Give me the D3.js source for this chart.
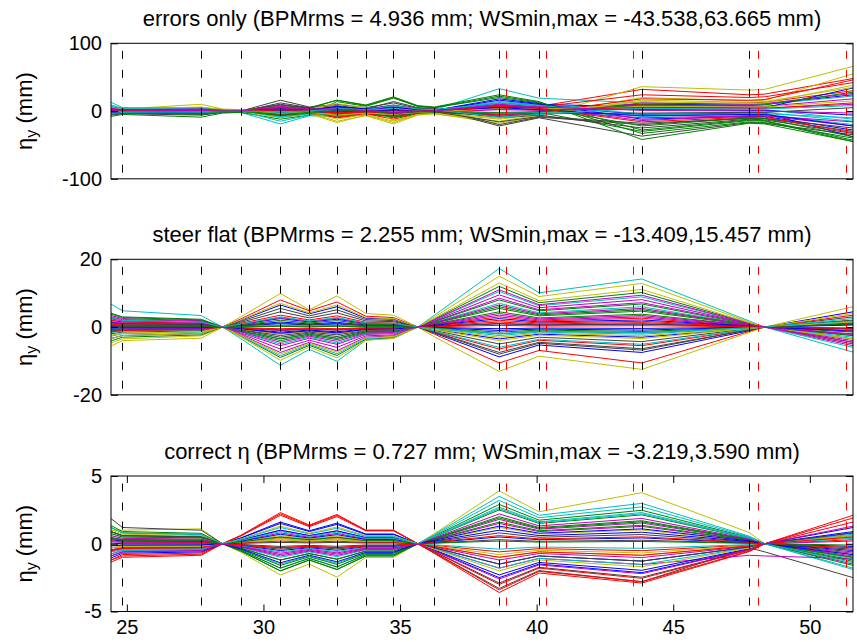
<!DOCTYPE html>
<html>
<head>
<meta charset="utf-8">
<script src="https://cdn.jsdelivr.net/npm/d3@7"></script>
<style>
body{margin:0;background:#fff;}
text{font-family:"Liberation Sans",Arial,Helvetica,sans-serif;fill:#000;}
</style>
</head>
<body>
<div id="chart"></div>
<script>
// s positions (m) where the eta_y traces have their points
var sNodes = [24.42,24.84,27.72,28.5,29.17,30.62,31.68,32.69,33.75,34.76,35.65,36.26,38.63,40.09,43.85,47.78,48.35,51.58];
// BPM (black dashed) and wire scanner (red dashed) positions
var bpmS = [24.84,27.72,29.17,30.62,31.68,32.69,33.75,34.76,36.26,38.63,40.09,43.85,47.78];
var wsS = [38.88,40.34,43.54,48.10,51.32];
var xTicks = [25,30,35,40,45,50];

var panelTitles = [
	"errors only (BPMrms = 4.936 mm; WSmin,max = -43.538,63.665 mm)",
	"steer flat (BPMrms = 2.255 mm; WSmin,max = -13.409,15.457 mm)",
	"correct \u03b7 (BPMrms = 0.727 mm; WSmin,max = -3.219,3.590 mm)"
];
var yTicks1 = [-100,0,100];
var yTicks2 = [-20,0,20];
var yTicks3 = [-5,0,5];

// eta_y (mm), one row per seed, errors only
var etaErrors = [
	[3,2,1,0,0,3,2,4,2,5,2,2,8,5,10,9,10,24],
	[-4,-3,-5,-2,-1,-6,-3,-8,-3,-10,-4,-3,-6,-2,-30,-14,-15,-45],
	[1,1,2,1,0,-3,-1,-5,-2,-4,-1,0,5,7,32,24,25,48],
	[13,5,1,-1,-2,-19,-7,-8,-3,-5,-1,2,33,19,12,10,10,22],
	[-2,-1,0,0,1,5,3,6,3,8,3,2,6,4,5,4,4,10],
	[4,3,10,3,2,-6,-3,-15,-7,-19,-6,-4,-18,-8,36,31,32,66],
	[0,-1,-2,-1,0,16,6,10,5,12,4,3,-22,-10,-37,-17,-18,-35],
	[-1,0,1,0,0,-2,-1,-3,-1,-2,0,1,12,8,-5,-3,-3,-38],
	[6,4,5,2,1,8,5,16,9,21,8,6,24,14,-42,-18,-19,-45],
	[-3,-2,-3,-1,0,4,2,-6,-3,-8,-3,-2,-4,-1,10,12,13,30],
	[5,3,2,1,1,-8,-4,-3,-1,2,1,1,14,9,3,2,2,-12],
	[1,1,0,0,0,6,3,5,2,3,1,0,-6,-3,8,7,7,18],
	[-3,-2,-4,-1,0,-10,-4,-17,-6,-17,-5,-4,-15,-6,20,15,16,55],
	[-6,-4,-6,-2,-1,12,5,8,3,14,5,4,-20,-9,-20,-10,-11,-30],
	[2,1,2,1,0,-4,-2,-2,0,3,1,1,16,10,6,5,5,34],
	[-8,-5,-9,-3,-2,-12,-6,14,7,19,7,5,20,12,-33,-16,-17,-40],
	[0,0,1,0,0,3,1,-9,-4,-12,-4,-3,3,6,24,20,21,42],
	[9,4,3,1,0,-15,-6,-4,-1,1,0,1,10,6,-8,-5,-5,-20],
	[-1,0,-1,0,0,2,1,3,1,4,1,1,-8,-4,12,10,11,26],
	[5,3,6,2,1,7,3,11,5,-14,-5,-3,-12,-5,16,13,14,35],
	[-4,-2,-3,-1,0,-5,-2,6,3,9,3,2,-10,-6,-25,-12,-13,-33],
	[1,2,3,1,0,-2,0,1,1,2,1,1,18,11,-12,-8,-8,-28],
	[-2,-1,-2,-1,0,9,4,16,8,20,7,5,22,13,-28,-13,-14,-43],
	[3,2,1,0,0,-6,-3,-10,-5,-7,-2,-1,-5,-2,18,16,17,46],
	[7,4,4,1,1,-9,-4,-2,0,4,2,2,12,8,-4,-2,-2,-15],
	[-2,-1,-1,0,0,4,2,-4,-2,-5,-2,-1,2,1,-10,-7,-7,-16],
	[0,1,2,1,0,-3,-2,-12,-5,-15,-5,-3,-10,-4,14,11,12,38],
	[-5,-3,-4,-1,0,10,4,3,1,-6,-2,-1,-16,-8,-18,-11,-11,-25],
	[2,1,1,0,0,1,0,-1,0,1,0,0,6,4,2,1,1,-6],
	[-3,-2,-4,-1,0,-7,-3,-6,-2,-9,-3,-2,9,5,-22,-10,-11,-38],
	[1,0,-1,0,0,2,1,-2,-1,-3,-1,0,3,2,5,4,4,12],
	[-2,-1,-2,-1,0,-3,-1,2,1,4,1,1,-3,-2,-6,-4,-4,-10],
	[4,2,3,1,0,6,3,4,2,6,2,1,8,5,-14,-7,-7,-22],
	[-1,-1,0,0,0,-4,-2,-6,-3,-5,-2,-1,4,3,7,6,6,15],
	[2,2,1,0,0,0,1,2,1,-2,-1,0,-8,-4,-3,-2,-2,5],
	[-3,-2,-1,0,0,3,1,7,3,6,2,1,5,2,-7,-5,-5,-22],
	[0,1,2,1,0,-5,-2,0,1,-4,-1,-1,-2,-1,9,8,9,28],
	[3,1,0,0,0,2,1,-3,-1,0,0,0,7,4,-16,-9,-9,-32],
	[-4,-2,-1,0,0,-1,0,4,2,8,3,2,-9,-5,4,3,3,8],
	[1,0,1,0,0,7,3,3,1,-2,-1,0,10,6,1,0,0,-3]
];

// eta_y (mm) after steering flat
var etaSteer = [
	[0.7,0.5,0.4,0,0.8,2.5,1.5,2.3,1.0,0.9,0,-1.8,-8.8,-5.3,-7.5,-1.1,0,4.5],
	[2.7,2.0,1.5,0,-1.2,-4.0,-2.4,-3.7,-1.6,-1.4,0,1.2,6.0,3.6,5.1,0.7,0,-3.5],
	[-1.4,-1.0,-0.8,0,2.4,8.0,4.8,7.4,3.2,2.8,0,-2.1,-10.6,-6.9,-10.6,-1.3,0,1.0],
	[6.8,4.8,3.4,0,-3.4,-11.3,-6.6,-10.1,-3.9,-3.1,0,3.5,17.3,10.1,14.2,1.8,0,-7.4],
	[2.0,1.5,1.1,0,-2.0,-6.5,-3.9,-6.0,-2.6,-2.3,0,1.7,8.5,5.1,7.2,1.0,0,-5.5],
	[-5.6,-4.0,-3.3,0,3.0,9.9,5.1,9.2,4.0,3.5,0,-2.9,-13.1,-8.6,-12.5,-1.6,0,6.0],
	[-0.7,-0.5,-0.4,0,1.7,5.5,3.3,5.1,2.2,1.9,0,-1.5,-7.5,-4.5,-6.4,-0.9,0,3.0],
	[-3.4,-2.5,-1.9,0,2.0,6.5,3.9,6.0,2.6,2.3,0,0.2,1.0,0.6,0.9,0.1,0,-0.6],
	[4.1,3.0,2.3,0,-2.7,-9.0,-5.4,-8.4,-3.6,-3.2,0,2.4,12.0,7.2,10.2,1.2,0,-4.5],
	[0.4,0.3,0.2,0,-0.6,-2.0,-1.2,-1.9,-0.8,-0.7,0,0.4,2.0,1.2,1.7,0.2,0,-0.5],
	[1.4,1.0,0.8,0,-2.6,-8.5,-5.1,-7.9,-3.4,-3.0,0,2.1,10.5,6.3,8.9,1.1,0,-6.0],
	[3.4,2.5,1.9,0,-1.7,-5.5,-3.3,-5.1,-2.2,-1.9,0,1.9,9.5,5.7,8.1,1.0,0,-4.0],
	[-4.7,-3.5,-2.6,0,-2.9,-9.8,-5.9,-9.1,-3.9,-3.4,0,3.0,15.0,9.0,12.9,1.5,0,-5.0],
	[-2.0,-1.5,-1.1,0,-0.9,-3.0,-1.8,-2.8,-1.2,-1.1,0,-1.0,-5.0,-3.0,-4.3,-0.5,0,2.0],
	[0.2,0.0,0.0,0,0.5,1.5,0.9,1.4,0.6,0.5,0,-0.7,-3.5,-2.1,-3.0,-0.4,0,1.5],
	[-1.4,-1.0,-0.8,0,-0.3,-1.0,-0.6,-0.9,-0.4,-0.4,0,0.9,4.5,2.7,3.8,0.5,0,-2.5],
	[2.0,1.5,1.1,0,1.1,3.5,2.1,3.3,1.4,1.2,0,-1.3,-6.5,-3.9,-5.5,-0.7,0,3.5],
	[-2.7,-2.0,-1.5,0,-1.5,-5.0,-3.0,-4.7,-2.0,-1.8,0,1.4,7.0,4.2,6.0,0.7,0,-3.0],
	[3.0,2.2,1.7,0,-2.3,-7.5,-4.5,-7.0,-3.0,-2.6,0,2.2,11.0,6.6,9.4,1.1,0,-5.0],
	[1.1,0.8,0.6,0,2.1,7.0,4.2,6.5,2.8,2.5,0,-0.8,-4.0,-2.4,-3.4,-0.4,0,4.0],
	[-1.1,-0.8,-0.6,0,1.4,4.5,2.7,4.2,1.8,1.6,0,-1.6,-8.0,-4.8,-6.8,-0.8,0,2.0],
	[1.4,1.0,0.8,0,-0.5,-1.5,-0.9,-1.4,-0.6,-0.5,0,-0.2,-1.0,-0.6,-0.9,-0.1,0,0.6],
	[-4.1,-3.0,-2.3,0,0.6,2.0,1.2,1.9,0.8,0.7,0,1.1,5.5,3.3,4.7,0.6,0,-1.5],
	[0.7,0.5,0.4,0,0.2,0.5,0.3,0.5,0.2,0.2,0,0.6,3.0,1.8,2.6,0.3,0,-0.5],
	[-1.6,-1.2,-0.9,0,-1.1,-3.5,-2.1,-3.3,-1.4,-1.2,0,-1.2,-6.0,-3.6,-5.1,-0.6,0,1.0],
	[2.4,1.8,1.4,0,-0.3,-1.0,-0.6,-0.9,-0.4,-0.4,0,0.7,3.5,2.1,3.0,0.4,0,-2.0],
	[-3.4,-2.5,-1.9,0,-2.4,-8.0,-4.8,-7.4,-3.2,-2.8,0,2.6,13.0,7.8,11.1,1.3,0,-3.5],
	[0.3,0.2,0.2,0,-0.8,-2.5,-1.5,-2.3,-1.0,-0.9,0,-0.4,-2.0,-1.2,-1.7,-0.2,0,1.2],
	[-0.7,-0.5,-0.4,0,0.3,1.0,0.6,0.9,0.4,0.4,0,-0.1,-0.5,-0.3,-0.4,-0.1,0,0.8],
	[3.8,2.8,2.1,0,-1.1,-3.5,-2.1,-3.3,-1.4,-1.2,0,1.6,8.0,4.8,6.8,0.8,0,-2.5],
	[0.8,0.6,0.5,0,-0.2,-0.8,-0.5,-0.7,-0.3,-0.3,0,0.3,1.5,0.9,1.3,0.2,0,-1.0],
	[-0.4,-0.3,-0.2,0,0.2,0.6,0.4,0.6,0.2,0.2,0,-0.5,-2.5,-1.5,-2.1,-0.3,0,1.8],
	[1.6,1.2,0.9,0,0.8,2.8,1.7,2.6,1.1,1.0,0,0.8,4.0,2.4,3.4,0.5,0,-2.2],
	[-2.4,-1.8,-1.4,0,-0.6,-2.0,-1.2,-1.9,-0.8,-0.7,0,-0.6,-3.0,-1.8,-2.6,-0.4,0,1.5],
	[1.2,0.9,0.7,0,0.4,1.2,0.7,1.1,0.5,0.4,0,0.2,1.0,0.6,0.9,0.1,0,-0.4],
	[-0.3,-0.2,-0.2,0,-0.5,-1.8,-1.1,-1.7,-0.7,-0.6,0,0.5,2.5,1.5,2.1,0.3,0,-1.2],
	[0.5,0.4,0.3,0,0.1,0.2,0.1,0.2,0.1,0.1,0,-0.3,-1.5,-0.9,-1.3,-0.2,0,0.9],
	[-1.4,-1.0,-0.8,0,-0.2,-0.5,-0.3,-0.5,-0.2,-0.2,0,0.1,0.5,0.3,0.4,0.1,0,-0.3],
	[2.7,2.0,1.5,0,0.9,3.0,1.8,2.8,1.2,1.1,0,-0.4,-2.0,-1.2,-1.7,-0.2,0,2.5],
	[-0.8,-0.6,-0.5,0,-1.4,-4.5,-2.7,-4.2,-1.8,-1.6,0,1.3,6.5,3.9,5.5,0.7,0,-4.5]
];

// eta_y (mm) after dispersion correction
var etaCorrect = [
	[0.45,0.3,0.26,0,0.43,1.6,0.96,1.52,0.72,0.72,0,-0.5,-2.5,-1.5,-2.13,-0.4,0,1.2],
	[1.2,0.8,0.68,0,-0.54,-2.0,-1.2,-1.9,-0.9,-0.9,0,0.58,2.9,1.74,2.47,0.46,0,-1.2],
	[-1.35,-1.0,-0.85,0,0.62,2.3,1.38,2.16,1.0,1.0,0,-0.72,-3.6,-2.16,-2.9,-0.58,0,2.1],
	[0.75,0.5,0.43,0,-0.49,-1.8,-1.08,-1.71,-0.81,-0.81,0,0.7,3.5,2.1,2.98,0.56,0,-1.9],
	[-0.45,-0.3,-0.26,0,-0.22,-0.8,-0.48,-0.76,-0.36,-0.36,0,0.3,1.5,0.9,1.28,0.24,0,-1.5],
	[1.0,1.0,1.1,0,-0.62,-2.3,-1.5,-2.46,-1.0,-1.0,0,0.75,3.9,2.36,3.77,0.83,0,-0.8],
	[1.86,1.2,1.0,0,0.14,0.5,0.3,0.48,0.23,0.23,0,-0.66,-3.3,-1.98,-2.8,-0.3,-0.6,-2.5],
	[-0.9,-0.6,-0.51,0,0.41,1.5,0.9,1.43,0.68,0.68,0,-0.3,-1.5,-0.9,-1.28,-0.24,0,0.8],
	[0.9,0.6,0.51,0,-0.54,-2.0,-1.2,-1.9,-0.9,-0.9,0,0.5,2.5,1.5,2.13,0.4,0,-1.6],
	[-1.2,-0.9,-0.77,0,0.59,2.2,1.32,2.09,0.99,0.99,0,-0.68,-3.4,-2.04,-2.8,-0.55,0,1.9],
	[0.45,0.3,0.26,0,-0.41,-1.5,-0.9,-1.43,-0.68,-0.68,0,0.64,3.2,1.92,2.72,0.51,0,-1.8],
	[-0.6,-0.4,-0.34,0,0.27,1.0,0.6,0.95,0.45,0.45,0,-0.36,-1.8,-1.08,-1.53,-0.85,-0.9,-1.1],
	[1.05,0.7,0.6,0,0.16,0.6,0.36,0.57,0.27,0.27,0,-0.2,-1.0,-0.6,-0.85,-0.16,0,0.5],
	[-0.3,-0.2,-0.17,0,-0.32,-1.2,-0.72,-1.14,-0.54,-0.54,0,-0.58,-2.9,-1.74,-2.47,-0.46,0,0.6],
	[0.05,0.0,0.0,0,0.27,1.0,0.6,0.95,0.45,0.45,0,-0.46,-2.3,-1.38,-1.96,-0.37,0,0.9],
	[0.75,0.5,0.43,0,-0.43,-1.6,-0.96,-1.52,-0.72,-0.72,0,0.4,2.0,1.2,1.7,0.32,0,-1.3],
	[-1.2,-0.8,-0.68,0,0.57,2.1,1.26,2.0,0.95,0.95,0,-0.6,-3.0,-1.8,-2.55,-0.48,0,1.6],
	[0.3,0.2,0.17,0,-0.27,-1.0,-0.6,-0.95,-0.45,-0.45,0,0.52,2.6,1.56,2.21,0.42,0,-1.1],
	[-0.75,-0.5,-0.43,0,0.11,0.4,0.24,0.38,0.18,0.18,0,0.36,1.8,1.08,1.53,0.29,0,-0.7],
	[0.6,0.4,0.34,0,0.08,0.3,0.18,0.29,0.14,0.14,0,0.24,1.2,0.72,1.02,0.19,0,-0.3],
	[-0.15,-0.1,-0.09,0,-0.11,-0.4,-0.24,-0.38,-0.18,-0.18,0,0.16,0.8,0.48,0.68,0.13,0,-0.4],
	[0.3,0.2,0.17,0,-0.14,-0.5,-0.3,-0.48,-0.23,-0.23,0,0.2,1.0,0.6,0.85,0.16,0,-0.5],
	[1.35,0.9,0.77,0,-0.49,-1.8,-1.08,-1.71,-0.81,-0.81,0,0.32,1.6,0.96,1.36,0.26,0,-1.0],
	[-0.45,-0.3,-0.26,0,0.05,0.2,0.12,0.19,0.09,0.09,0,-0.12,-0.6,-0.36,-0.51,-0.1,0,0.3],
	[-0.6,-0.4,-0.34,0,-0.16,-0.6,-0.36,-0.57,-0.27,-0.27,0,-0.36,-1.8,-1.08,-1.53,-0.29,0,0.7],
	[0.15,0.1,0.09,0,0.22,0.8,0.48,0.76,0.36,0.36,0,-0.24,-1.2,-0.72,-1.02,-0.19,0,0.2],
	[-0.3,-0.2,-0.17,0,0.11,0.4,0.24,0.38,0.18,0.18,0,-0.4,-2.0,-1.2,-1.7,-0.32,0,0.5],
	[0.45,0.3,0.26,0,-0.05,-0.2,-0.12,-0.19,-0.09,-0.09,0,0.06,0.3,0.18,0.26,0.05,0,-0.6],
	[-1.05,-0.7,-0.6,0,0.19,0.7,0.42,0.67,0.32,0.32,0,0.1,0.5,0.3,0.43,0.08,0,-0.2],
	[0.9,0.6,0.51,0,-0.32,-1.2,-0.72,-1.14,-0.54,-0.54,0,0.38,1.9,1.14,1.62,0.3,0,-1.0],
	[0.22,0.15,0.13,0,-0.08,-0.3,-0.18,-0.29,-0.14,-0.14,0,0.12,0.6,0.36,0.51,0.1,0,-0.3],
	[-0.75,-0.5,-0.43,0,0.24,0.9,0.54,0.86,0.41,0.41,0,-0.08,-0.4,-0.24,-0.34,-0.06,0,0.4],
	[0.6,0.4,0.34,0,-0.19,-0.7,-0.42,-0.67,-0.32,-0.32,0,0.44,2.2,1.32,1.87,0.35,0,-0.9],
	[-0.3,-0.2,-0.17,0,0.35,1.3,0.78,1.24,0.59,0.59,0,-0.16,-0.8,-0.48,-0.68,-0.13,0,0.6],
	[0.9,0.6,0.51,0,0.03,0.1,0.06,0.1,0.05,0.05,0,-0.3,-1.5,-0.9,-1.28,-0.24,0,0.8],
	[-0.15,-0.1,-0.09,0,-0.38,-1.4,-0.84,-1.33,-0.63,-0.63,0,0.26,1.3,0.78,1.1,0.21,0,-0.8],
	[0.38,0.25,0.21,0,0.14,0.5,0.3,0.48,0.23,0.23,0,0.04,0.2,0.12,0.17,0.03,0,-0.1],
	[-0.52,-0.35,-0.3,0,-0.08,-0.3,-0.18,-0.29,-0.14,-0.14,0,-0.2,-1.0,-0.6,-0.85,-0.16,0,0.5],
	[1.2,0.8,0.68,0,0.32,1.2,0.72,1.14,0.54,0.54,0,0.54,2.7,1.62,2.3,0.43,0,-1.4],
	[-0.9,-0.6,-0.51,0,-0.24,-0.9,-0.54,-0.86,-0.41,-0.41,0,-0.52,-2.6,-1.56,-2.21,-0.42,0,1.3]
];

// old matlab line colour order
var colorOrder = ["#0000ff","#008000","#ff0000","#00bfbf","#bf00bf","#bfbf00","#404040"];

var width = 857, height = 642;
var plotLeft = 111, plotRight = 853, plotH = 135.5;
var panelTops = [43.3,259.3,476];

var panels = [
	{title:panelTitles[0], data:etaErrors, ylim:[-100,100], ticks:yTicks1},
	{title:panelTitles[1], data:etaSteer, ylim:[-20,20], ticks:yTicks2},
	{title:panelTitles[2], data:etaCorrect, ylim:[-5,5], ticks:yTicks3}
];

var svg = d3.select("#chart").append("svg")
	.attr("width",width).attr("height",height)
	.style("background","#fff");

var x = d3.scaleLinear().domain([24.42,51.58]).range([plotLeft,plotRight]);

// plain hyphen minus like matlab, not the unicode minus d3 uses
var plainFmt = function(d){return String(d);};

panels.forEach(function(p,pi){
	var top = panelTops[pi];
	var y = d3.scaleLinear().domain(p.ylim).range([top+plotH,top]);
	var g = svg.append("g");

	g.append("clipPath").attr("id","clip"+pi)
		.append("rect").attr("x",plotLeft).attr("y",top)
		.attr("width",plotRight-plotLeft).attr("height",plotH);

	var line = d3.line()
		.x(function(d,i){return x(sNodes[i]);})
		.y(function(d){return y(d);});

	var inner = g.append("g").attr("clip-path","url(#clip"+pi+")");

	inner.selectAll(".eta").data(p.data).join("path")
		.classed("eta",true)
		.attr("d",line)
		.attr("fill","none")
		.attr("stroke",function(d,i){return colorOrder[i%colorOrder.length];})
		.attr("stroke-width",1);

	inner.selectAll(".bpm").data(bpmS).join("line")
		.classed("bpm",true)
		.attr("x1",function(d){return Math.round(x(d))+0.5;})
		.attr("x2",function(d){return Math.round(x(d))+0.5;})
		.attr("y1",top+plotH).attr("y2",top)
		.attr("stroke","#000").attr("stroke-width",1)
		.attr("stroke-dasharray","8,11").attr("stroke-dashoffset",-6);

	inner.selectAll(".ws").data(wsS).join("line")
		.classed("ws",true)
		.attr("x1",function(d){return Math.round(x(d))+0.5;})
		.attr("x2",function(d){return Math.round(x(d))+0.5;})
		.attr("y1",top+plotH).attr("y2",top)
		.attr("stroke","#ff0000").attr("stroke-width",1)
		.attr("stroke-dasharray","8,11").attr("stroke-dashoffset",-6);

	// y axes, ticks pointing inward
	g.append("g").attr("transform","translate("+plotLeft+",0)")
		.call(d3.axisLeft(y).tickValues(p.ticks).tickSize(-7).tickPadding(9).tickFormat(plainFmt));
	g.append("g").attr("transform","translate("+plotRight+",0)")
		.call(d3.axisRight(y).tickValues(p.ticks).tickSize(-7).tickFormat(""));

	if(pi==2){
		g.append("g").attr("transform","translate(0,"+(top+plotH)+")")
			.call(d3.axisBottom(x).tickValues(xTicks).tickSize(-7).tickPadding(8.5).tickFormat(plainFmt));
		g.append("g").attr("transform","translate(0,"+top+")")
			.call(d3.axisTop(x).tickValues(xTicks).tickSize(-7).tickFormat(""));
	}

	g.selectAll(".domain").remove();
	g.selectAll(".tick line").attr("stroke","#000");
	g.selectAll(".tick text").style("font-size","20px")
		.style("font-family",'"Liberation Sans",Arial,sans-serif').attr("fill","#000");

	g.append("rect").attr("x",plotLeft).attr("y",top)
		.attr("width",plotRight-plotLeft).attr("height",plotH)
		.attr("fill","none").attr("stroke","#000").attr("stroke-width",1);

	g.append("text").attr("x",(plotLeft+plotRight)/2).attr("y",top-17)
		.attr("text-anchor","middle").style("font-size","22px")
		.text(p.title);

	var ylab = g.append("text")
		.attr("transform","translate(32,"+(top+plotH/2)+") rotate(-90)")
		.attr("text-anchor","middle").style("font-size","22px");
	ylab.append("tspan").text("\u03b7");
	ylab.append("tspan").attr("dy",5).style("font-size","16px").text("y");
	ylab.append("tspan").attr("dy",-5).text(" (mm)");
});
</script>
</body>
</html>
